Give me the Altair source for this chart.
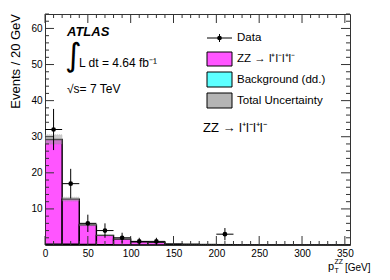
import altair as alt
import pandas as pd

FONT = "Liberation Sans"

# ---- histogram (prediction), 20 GeV bins ----
bin_low = [0, 20, 40, 60, 80, 100, 120, 140, 160, 180, 200, 220, 240, 260, 280, 300, 320, 340]
bin_high = [20, 40, 60, 80, 100, 120, 140, 160, 180, 200, 220, 240, 260, 280, 300, 320, 340, 360]
zz_signal = [29.0, 12.5, 5.45, 2.6, 1.6, 0.85, 0.7, 0.3, 0.2, 0.13, 0.09, 0.06, 0.04, 0.03, 0.02, 0.015, 0.01, 0.008]
background = [0.25, 0.2, 0.12, 0.06, 0.04, 0.03, 0.02, 0.01, 0.01, 0.005, 0.004, 0.003, 0.002, 0.002, 0.001, 0.001, 0.001, 0.001]
total_unc = [1.3, 0.55, 0.3, 0.15, 0.1, 0.06, 0.05, 0.03, 0.02, 0.01, 0.01, 0.01, 0.01, 0.01, 0.01, 0.01, 0.01, 0.01]

# ---- data points ----
data_x = [10, 30, 50, 70, 90, 110, 130, 210]
data_y = [32, 17, 6, 4, 2, 1, 1, 3]
data_err = [5.7, 4.1, 2.4, 2.0, 1.4, 1.0, 1.0, 1.7]
half_bin = 10

# ---- axis ticks ----
x_major = [0, 50, 100, 150, 200, 250, 300, 350]
x_minor = [v for v in range(0, 360, 10) if v not in x_major]
y_major = [10, 20, 30, 40, 50, 60]
y_minor = [v for v in range(2, 65, 2) if v not in y_major]

W, H = 305, 231
XMAX, YMAX = 356, 64

hist = pd.DataFrame({
    "lo": bin_low, "hi": bin_high,
    "bkg": background,
    "tot": [s + b for s, b in zip(zz_signal, background)],
    "unc": total_unc,
})
hist["ulo"] = hist["tot"] - hist["unc"]
hist["uhi"] = hist["tot"] + hist["unc"]
hist["zero"] = 0.0

pts = pd.DataFrame({"x": data_x, "y": data_y, "err": data_err})
pts["ylo"] = pts["y"] - pts["err"]
pts["yhi"] = pts["y"] + pts["err"]
pts["xlo"] = pts["x"] - half_bin
pts["xhi"] = pts["x"] + half_bin

xs = alt.Scale(domain=[0, XMAX], nice=False, zero=False)
ys = alt.Scale(domain=[0, YMAX], nice=False, zero=False)
xaxis = alt.Axis(values=x_major, ticks=False, domain=False, grid=False, labelFont=FONT,
                 labelFontSize=10, labelPadding=3, labelColor="black", title=None, labelFlush=False)
yaxis = alt.Axis(values=y_major, ticks=False, domain=False, grid=False, labelFont=FONT,
                 labelFontSize=10, labelPadding=3, labelColor="black", title=None)


def X(f):
    return alt.X(f, type="quantitative", scale=xs, axis=xaxis)


def Y(f):
    return alt.Y(f, type="quantitative", scale=ys, axis=yaxis)


base = alt.Chart(hist)

bkg_rect = base.mark_rect(fill="#5cffff", stroke="black", strokeWidth=0.8, clip=True).encode(
    x=X("lo"), x2="hi", y=Y("zero"), y2="bkg")
sig_rect = base.mark_rect(fill="#ff55ff", stroke="black", strokeWidth=1.4, clip=True).encode(
    x=X("lo"), x2="hi", y=Y("bkg"), y2="tot")
unc_rect = base.mark_rect(fill="#9a9a9a", opacity=0.5, stroke="#777", strokeWidth=0.5,
                          strokeDash=[1, 1], clip=True).encode(
    x=X("lo"), x2="hi", y=Y("ulo"), y2="uhi")

pbase = alt.Chart(pts)
verr = pbase.mark_rule(color="black", strokeWidth=1).encode(x=X("x"), y=Y("ylo"), y2="yhi")
herr = pbase.mark_rule(color="black", strokeWidth=1).encode(x=X("xlo"), x2="xhi", y=Y("y"))
dots = pbase.mark_point(filled=True, color="black", size=22, opacity=1, shape="circle").encode(
    x=X("x"), y=Y("y"))


# inner ticks on all four sides
def tick_layer(vals, axis, length):
    d = alt.Chart(pd.DataFrame({"v": vals}))
    m = d.mark_rule(color="#333", strokeWidth=1)
    if axis == "x":
        return [m.encode(x=X("v"), y=alt.value(H), y2=alt.value(H - length)),
                m.encode(x=X("v"), y=alt.value(0), y2=alt.value(length))]
    return [m.encode(y=Y("v"), x=alt.value(0), x2=alt.value(length)),
            m.encode(y=Y("v"), x=alt.value(W), x2=alt.value(W - length))]


ticks = (tick_layer(x_major, "x", 9) + tick_layer(x_minor, "x", 4)
         + tick_layer(y_major, "y", 9) + tick_layer(y_minor, "y", 4))


def txt(s, x, y, size=12, align="left", **kw):
    return alt.Chart(pd.DataFrame({"t": [s]})).mark_text(
        text=s, align=align, baseline="middle", fontSize=size, font=kw.pop("font", FONT),
        color="black", **kw).encode(x=alt.value(x), y=alt.value(y))


def box(x1, x2, y1, y2, fill, **kw):
    return alt.Chart(pd.DataFrame({"t": [0]})).mark_rect(fill=fill, stroke="black", strokeWidth=1, **kw).encode(
        x=alt.value(x1), x2=alt.value(x2), y=alt.value(y1), y2=alt.value(y2))


def seg(x1, x2, y1, y2, w=1):
    return alt.Chart(pd.DataFrame({"t": [0]})).mark_rule(color="black", strokeWidth=w).encode(
        x=alt.value(x1), x2=alt.value(x2), y=alt.value(y1), y2=alt.value(y2))


labels = [
    txt("ATLAS", 22, 18, 13, fontWeight="bold", fontStyle="italic"),
    txt("∫", 20, 42, 32, font="DejaVu Sans"),
    txt("L dt = 4.64 fb⁻¹", 34, 49, 12),
    txt("√s= 7 TeV", 22, 75, 12),
    # legend
    seg(162, 187, 24, 24),
    seg(174.5, 174.5, 20, 28),
    alt.Chart(pd.DataFrame({"t": [0]})).mark_point(filled=True, color="black", size=22, opacity=1).encode(
        x=alt.value(174.5), y=alt.value(24)),
    txt("Data", 192, 24, 11.5),
    box(162, 187, 38, 52, "#ff55ff"),
    txt("ZZ → l⁺l⁻l⁺l⁻", 192, 45, 11.5),
    box(162, 187, 58, 73, "#5cffff"),
    txt("Background (dd.)", 192, 65.5, 11.5),
    box(162, 187, 79, 94, "#b4b4b4"),
    txt("Total Uncertainty", 192, 86.5, 11.5),
    txt("ZZ → l⁺l⁻l⁺l⁻", 158, 114, 13),
    # axis titles
    txt("Events / 20 GeV", -29, 0, 13, align="right", angle=270),
    txt("p", 283, 253, 11),
    txt("ZZ", 289.5, 248, 7),
    txt("T", 289.5, 257, 7),
    txt("[GeV]", 300, 253.5, 10),
]

chart = alt.layer(bkg_rect, sig_rect, unc_rect, *ticks, verr, herr, dots, *labels).properties(
    width=W, height=H,
    autosize=alt.AutoSizeParams(type="none"),
    padding={"left": 37, "top": 6, "right": 30, "bottom": 30},
    background="white",
).configure_view(stroke="#333", strokeWidth=1)

chart.save("out.html", embed_options={"renderer": "svg", "actions": False})
